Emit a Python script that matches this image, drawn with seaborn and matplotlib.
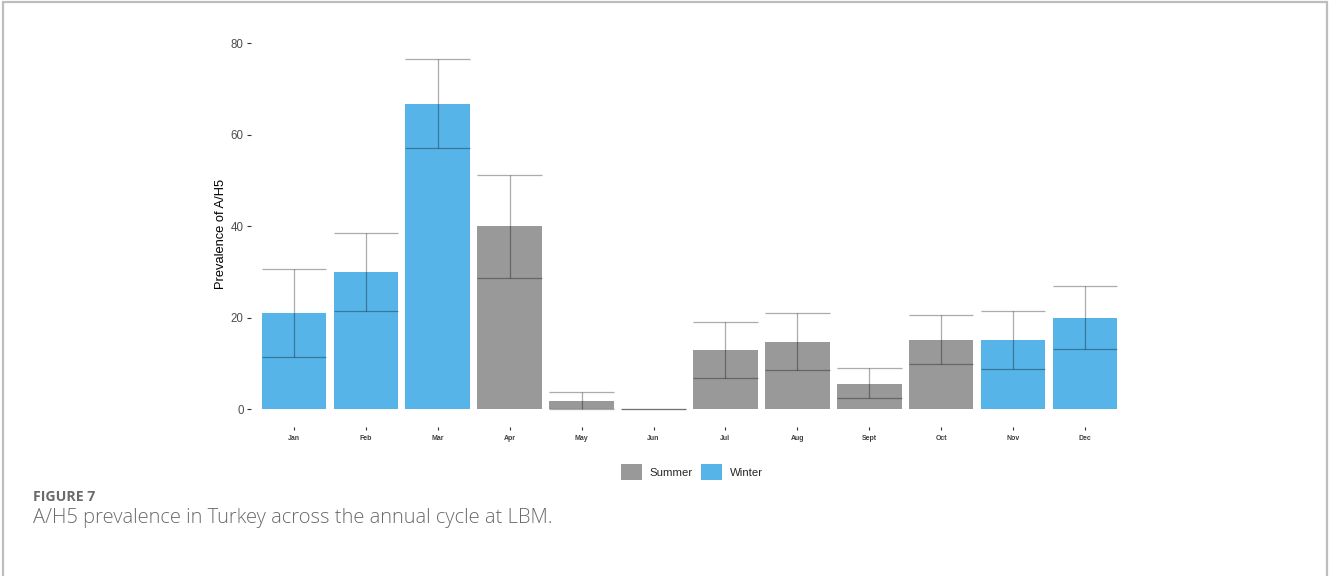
import matplotlib
matplotlib.use("Agg")
import matplotlib.pyplot as plt
import matplotlib.patches as mpatches
import numpy as np
import pandas as pd
import seaborn as sns

# Monthly A/H5 prevalence (%) with lower/upper interval bounds
months = ["Jan", "Feb", "Mar", "Apr", "May", "Jun",
          "Jul", "Aug", "Sept", "Oct", "Nov", "Dec"]
season = ["Winter", "Winter", "Winter", "Summer", "Summer", "Summer",
          "Summer", "Summer", "Summer", "Summer", "Winter", "Winter"]
prevalence = [21.0, 30.0, 66.7, 40.0, 1.8, 0.0,
              12.9, 14.6, 5.5, 15.2, 15.1, 20.0]
lower = [11.4, 21.4, 57.0, 28.6, 0.0, 0.0,
         6.8, 8.5, 2.4, 9.8, 8.8, 13.1]
upper = [30.6, 38.5, 76.5, 51.1, 3.7, 0.0,
         19.1, 20.9, 8.9, 20.6, 21.5, 26.9]
season_order = ["Summer", "Winter"]
season_colors = {"Summer": "#999999", "Winter": "#56B4E9"}

df = pd.DataFrame({"month": months, "season": season, "prevalence": prevalence,
                   "lower": lower, "upper": upper})

sns.set_theme(style="white")
plt.rcParams["font.family"] = ["Liberation Sans", "DejaVu Sans"]

fig = plt.figure(figsize=(13.29, 5.76), dpi=100)
ax = fig.add_axes([0.1888, 0.2595, 0.660, 0.668])

sns.barplot(data=df, x="month", y="prevalence", hue="season",
            hue_order=season_order, palette=season_colors, order=months,
            dodge=False, width=0.9, errorbar=None, legend=False,
            saturation=1, linewidth=0, ax=ax)

# interval bars spanning the full bar width
xpos = np.arange(len(months))
half = 0.45
err_kw = dict(color="black", alpha=0.33, linewidth=0.9, zorder=3)
ax.hlines(df["upper"], xpos - half, xpos + half, **err_kw)
ax.hlines(df["lower"], xpos - half, xpos + half, **err_kw)
ax.vlines(xpos, df["lower"], df["upper"], **err_kw)

span = max(upper) - 0
ax.set_ylim(0 - 0.05 * span, max(upper) + 0.05 * span)
ax.set_xlim(-0.6, len(months) - 0.4)
ax.set_yticks([0, 20, 40, 60, 80])

for s in ax.spines.values():
    s.set_visible(False)
ax.grid(False)

ax.tick_params(axis="y", which="both", left=True, length=3.2, width=0.8,
               color="#333333", labelsize=8.3, labelcolor="#4d4d4d", pad=2)
ax.tick_params(axis="x", which="both", bottom=True, length=2.2, width=0.8,
               color="#333333", labelsize=5.0, labelcolor="#404040", pad=4.2)
for lab in ax.get_xticklabels():
    lab.set_fontweight("bold")

ax.set_xlabel("")
ax.set_ylabel("Prevalence of A/H5", fontsize=9.3, color="black")
ax.yaxis.set_label_coords(-0.027, 0.5)

handles = [mpatches.Patch(facecolor=season_colors[s], edgecolor="none", label=s)
           for s in season_order]
fig.legend(handles=handles, loc="center", bbox_to_anchor=(692 / 1329, 1 - 472 / 576),
           ncol=2, frameon=False, fontsize=8.2, handlelength=1.85, handleheight=1.85,
           handletextpad=0.64, columnspacing=0.74, borderpad=0)

# figure caption
fig.text(33 / 1329, 1 - 497 / 576, "FIGURE 7", fontsize=10.2, fontweight="bold",
         color="#6b6b6b", family=["Open Sans", "DejaVu Sans"], va="center", ha="left")
fig.text(33 / 1329, 1 - 518 / 576,
         "A/H5 prevalence in Turkey across the annual cycle at LBM.",
         fontsize=14.5, color="#6b6b6b", family=["Open Sans", "DejaVu Sans"],
         fontweight="light", va="center", ha="left")

# thin frame along the top and sides of the figure
frame_kw = dict(color="#bdbdbd", linewidth=1.6, transform=fig.transFigure)
fig.add_artist(plt.Line2D([3 / 1329, 1327 / 1329], [1 - 2 / 576, 1 - 2 / 576], **frame_kw))
fig.add_artist(plt.Line2D([3 / 1329, 3 / 1329], [0, 1 - 2 / 576], **frame_kw))
fig.add_artist(plt.Line2D([1327 / 1329, 1327 / 1329], [0, 1 - 2 / 576], **frame_kw))

fig.savefig("out.png", dpi=100)
